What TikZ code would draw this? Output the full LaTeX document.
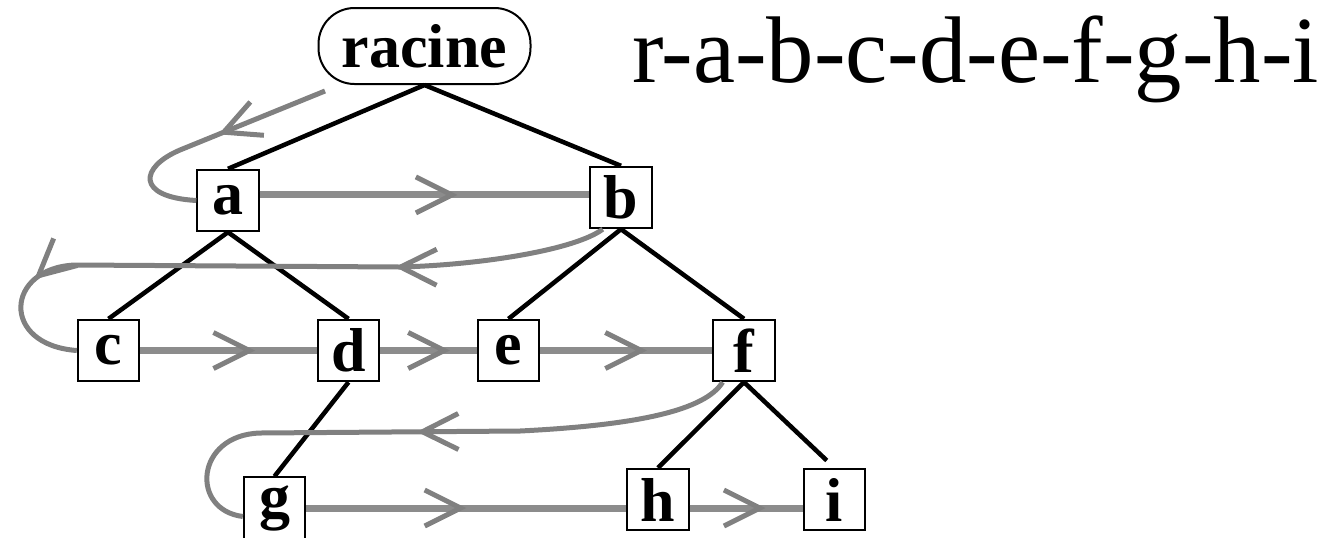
\documentclass[tikz,border=0pt]{standalone}
\usepackage{fontspec}
\setmainfont{Liberation Serif}
\usepackage{tikz}
\usetikzlibrary{arrows.meta}
\usetikzlibrary{decorations.markings}
\definecolor{gristrait}{RGB}{128,128,128}
\definecolor{grisligne}{RGB}{140,140,140}
\tikzstyle{noeud}=[draw,rectangle,fill=white,line width=1.5pt,minimum size=46pt,inner sep=0pt,font=\fontsize{46.5}{50}\selectfont\bfseries]
\tikzstyle{tete}=[draw,rectangle,rounded corners=27pt,line width=1.5pt,minimum width=159pt,minimum height=57pt,inner sep=0pt,font=\fontsize{46.5}{50}\selectfont\bfseries]
\tikzstyle{branche}=[line width=3.4pt]
\tikzstyle{parcours}=[draw=grisligne,line width=5.25pt]
\tikzstyle{retour}=[draw=gristrait,line width=3.75pt,line join=round]
\tikzset{chevron/.tip={Straight Barb[length=27pt,width=27pt,line width=3.75pt,color=gristrait]},
  fleche/.style={postaction={decorate,decoration={markings,mark=at position #1 with {\arrow{chevron}}}}}}

\begin{document}
\begin{tikzpicture}[x=0.75pt,y=-0.75pt]
    \useasboundingbox (0,0) rectangle (1335,537);
    % l'arbre
    \node [tete] (racine) at (424.5,46) {racine};
    \node [noeud] (a) at (228,200.5) {a};
    \node [noeud] (b) at (621,197.5) {b};
    \node [noeud] (c) at (108.5,350.5) {c};
    \node [noeud] (d) at (348.5,350.5) {d};
    \node [noeud] (e) at (508.5,350.5) {e};
    \node [noeud] (f) at (744,350.5) {f};
    \node [noeud] (g) at (274.5,508) {g};
    \node [noeud] (h) at (658,499.5) {h};
    \node [noeud] (i) at (834.5,499.5) {i};
    \node [anchor=base west,inner sep=0pt,font=\fontsize{71}{75}\selectfont] (ordre) at (632,82) {r-a-b-c-d-e-f-g-h-i};

    \draw [branche] (racine.south) -- (a.north)
                    (racine.south) -- (b.north)
                    (a.south) -- (c.north)
                    (a.south) -- (d.north)
                    (b.south) -- (e.north)
                    (b.south) -- (f.north)
                    (d.south) -- (g.north)
                    (f.south) -- (h.north);
    \draw [branche, shorten >=8pt] (f.south) -- (i.north);

    % parcours en largeur, niveau par niveau
    \draw [parcours, fleche=0.6] (a.10) -- (a.10 -| b.west);
    \draw [parcours, fleche=0.65] (c.east) -- (d.west);
    \draw [parcours, fleche=0.72] (d.east) -- (e.west);
    \draw [parcours, fleche=0.62] (e.east) -- (f.west);
    \draw [parcours, fleche=0.5] (g.east) -- (g.east -| h.west);
    \draw [parcours, fleche=0.67] (h.east |- g.east) -- (i.west |- g.east);

    % retours au niveau suivant
    \coordinate (depart) at (325,91);
    \draw [retour, fleche=0.45] (depart) -- (180,150) .. controls (140,167) and (135,197) .. (a.west);
    \draw [retour, fleche=0.31, fleche=0.84] (b.240) .. controls (575,250) and (480,265) .. (400,267)
          -- (75,265) .. controls (5,268) and (0,345) .. (c.west);
    \draw [retour, fleche=0.52] (f.236) .. controls (705,410) and (640,425) .. (520,431)
          -- (260,433) .. controls (195,435) and (190,510) .. (g.195);
\end{tikzpicture}
\end{document}
